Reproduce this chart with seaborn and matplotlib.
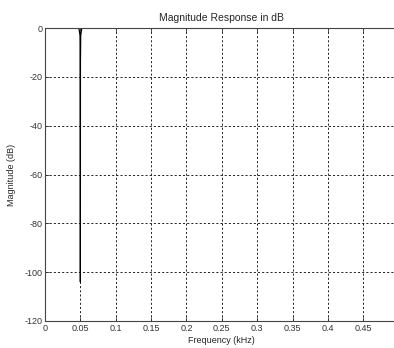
import matplotlib
matplotlib.use("Agg")
import matplotlib.pyplot as plt
import seaborn as sns
import pandas as pd

# Notch filter magnitude response (fs = 1 kHz, notch at 50 Hz)
freq_khz = [0.0, 0.040, 0.048, 0.0495, 0.0499, 0.0500, 0.0501, 0.0505, 0.052, 0.060, 0.5]
mag_db = [0.0, -0.02, -0.1, -3.0, -14.0, -104.0, -14.0, -3.0, -0.1, -0.02, 0.0]
x_ticks = [0, 0.05, 0.1, 0.15, 0.2, 0.25, 0.3, 0.35, 0.4, 0.45]
x_tick_labels = ["0", "0.05", "0.1", "0.15", "0.2", "0.25", "0.3", "0.35", "0.4", "0.45"]
y_ticks = [0, -20, -40, -60, -80, -100, -120]

sns.set_style("white")
plt.rcParams["font.family"] = ["Liberation Sans", "DejaVu Sans"]
plt.rcParams["axes.unicode_minus"] = False

df = pd.DataFrame({"Frequency (kHz)": freq_khz, "Magnitude (dB)": mag_db})

fig = plt.figure(figsize=(3.94, 3.48), dpi=100)
ax = fig.add_axes([45 / 394, 27 / 348, 353.6 / 394, 293 / 348])

sns.lineplot(data=df, x="Frequency (kHz)", y="Magnitude (dB)", ax=ax,
             color="black", linewidth=0.9, estimator=None, sort=False)

ax.set_xlim(0, 0.5)
ax.set_ylim(-120, 0)
ax.set_xticks(x_ticks)
ax.set_xticklabels(x_tick_labels)
ax.set_yticks(y_ticks)

ax.grid(True, color="black", linestyle=(0, (2.5, 2.5)), linewidth=0.6)
for side in ["left", "bottom", "top", "right"]:
    ax.spines[side].set_visible(True)
    ax.spines[side].set_color("#444444")
    ax.spines[side].set_linewidth(0.8)

ax.tick_params(direction="in", length=3, width=0.6, labelsize=6.5, colors="#333333",
               top=True, right=True, bottom=True, left=True, pad=2)
ax.set_xlabel("Frequency (kHz)", fontsize=6.5, labelpad=2)
ax.set_ylabel("Magnitude (dB)", fontsize=6.5, labelpad=6)
ax.set_title("Magnitude Response in dB", fontsize=7.5, pad=5)

fig.savefig("out.png", dpi=100, facecolor="white")
